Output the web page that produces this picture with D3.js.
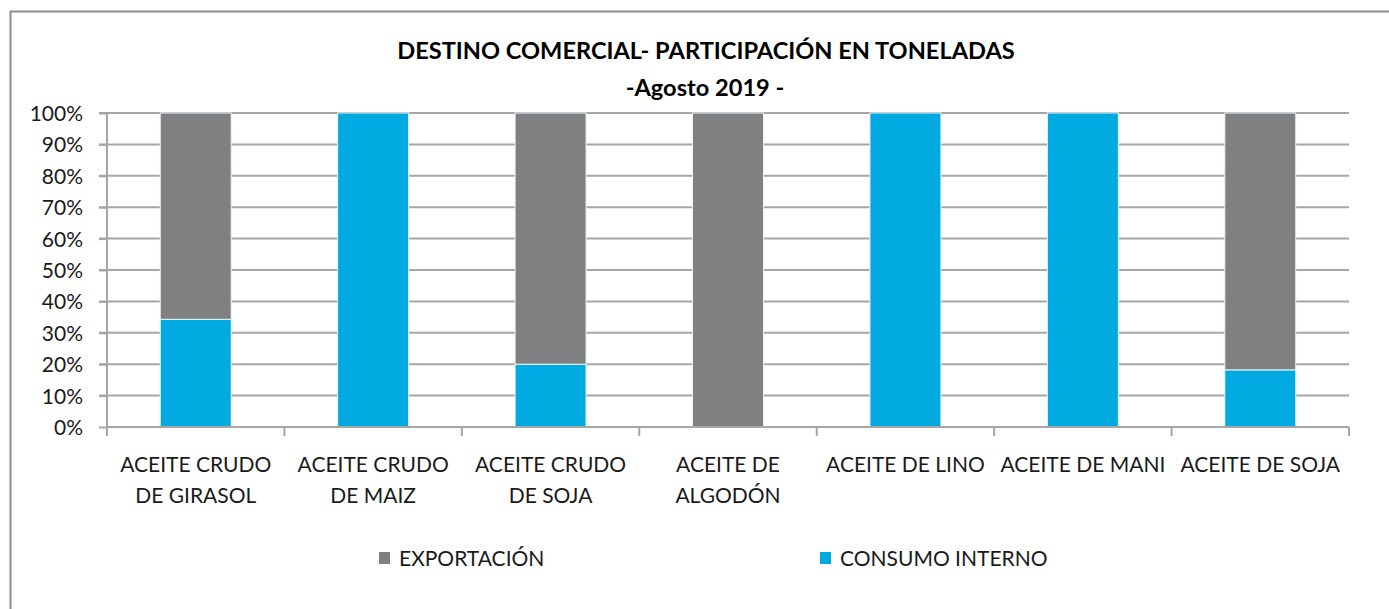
<!DOCTYPE html>
<meta charset="utf-8">
<title>Destino comercial</title>
<script src="https://d3js.org/d3.v7.min.js"></script>
<style>
  body { margin: 0; background: #fff; }
  text { font-family: Lato, "Liberation Sans", Arial, sans-serif; fill: #1a1a1a; }
  text.title { font-size: 23.6px; font-weight: bold; text-anchor: middle; fill: #000; }
  .yaxis text { font-size: 21px; }
  text.cat { font-size: 21px; }
  text.legend { font-size: 21px; }
</style>
<div id="chart"></div>
<script>
// data
var categories = [
  ["ACEITE CRUDO", "DE GIRASOL"],
  ["ACEITE CRUDO", "DE MAIZ"],
  ["ACEITE CRUDO", "DE SOJA"],
  ["ACEITE DE", "ALGODÓN"],
  ["ACEITE DE LINO"],
  ["ACEITE DE MANI"],
  ["ACEITE DE SOJA"]
];
var consumoInterno = [34.3, 100, 20, 0, 100, 100, 18.2];
var exportacion = [65.7, 0, 80, 100, 0, 0, 81.8];
var seriesNames = ["EXPORTACIÓN", "CONSUMO INTERNO"];
var seriesColors = ["#808080", "#00a9e0"];
var yTicks = [0, 10, 20, 30, 40, 50, 60, 70, 80, 90, 100];

var W = 1389, H = 609;
var margin = {top: 113, right: 40, bottom: 182, left: 107};

var svg = d3.select("#chart").append("svg")
    .attr("width", W)
    .attr("height", H);

// outer frame
svg.append("rect")
    .attr("x", 10.5).attr("y", 11.5)
    .attr("width", W).attr("height", H)
    .attr("fill", "none")
    .attr("stroke", "#8c8c8c")
    .attr("stroke-width", 2);

svg.append("text").attr("class", "title")
    .attr("x", 706).attr("y", 59)
    .text("DESTINO COMERCIAL- PARTICIPACIÓN EN TONELADAS");
svg.append("text").attr("class", "title")
    .attr("x", 705).attr("y", 96)
    .text("-Agosto 2019 -");

var g = svg.append("g")
    .attr("transform", "translate(" + margin.left + "," + margin.top + ")");
var width = 1349 - margin.left, height = 427 - margin.top;

var x = d3.scaleBand()
    .domain(d3.range(categories.length))
    .range([0, width])
    .paddingInner(0.6).paddingOuter(0.3);
var xb = d3.scaleBand().domain(d3.range(categories.length)).range([0, width]);
var y = d3.scaleLinear().domain([0, 100]).range([height, 0]);

// gridlines
g.append("g")
    .selectAll("line")
    .data(yTicks.slice(1))
    .enter().append("line")
    .attr("x1", -8).attr("x2", width)
    .attr("y1", function(d) { return y(d); })
    .attr("y2", function(d) { return y(d); })
    .attr("stroke", "#a6a6a6")
    .attr("stroke-width", 2);

// y axis
var yAxis = g.append("g").attr("class", "yaxis")
    .call(d3.axisLeft(y).tickValues(yTicks).tickSize(8).tickPadding(16)
        .tickFormat(function(d) { return d + "%"; }));
yAxis.selectAll("line").attr("stroke", "#a6a6a6").attr("stroke-width", 2);
yAxis.select(".domain").attr("stroke", "#a6a6a6").attr("stroke-width", 2)
    .attr("d", "M0,0V" + height);
yAxis.selectAll("text").attr("fill", "#1a1a1a").attr("dy", "0.36em")
    .style("font-family", null);

// stacked bars
var stackData = categories.map(function(c, i) {
  return {i: i, consumo: consumoInterno[i], export: exportacion[i]};
});
var layers = d3.stack().keys(["consumo", "export"])(stackData);
var colorByKey = {"export": seriesColors[0], "consumo": seriesColors[1]};

layers.forEach(function(layer) {
  g.append("g").selectAll("rect")
    .data(layer.filter(function(d) { return d[1] > d[0]; }))
    .enter().append("rect")
    .attr("x", function(d) { return x(d.data.i); })
    .attr("width", x.bandwidth())
    .attr("y", function(d) { return y(d[1]); })
    .attr("height", function(d) { return y(d[0]) - y(d[1]); })
    .attr("fill", colorByKey[layer.key])
    .attr("stroke", "#e8f6fb")
    .attr("stroke-width", 1);
});

// x axis
var xAxis = g.append("g").attr("transform", "translate(0," + height + ")");
xAxis.append("line").attr("x1", 0).attr("x2", width)
    .attr("stroke", "#a6a6a6").attr("stroke-width", 2);
xAxis.selectAll(".sep")
    .data(d3.range(categories.length + 1))
    .enter().append("line")
    .attr("x1", function(d) { return d === categories.length ? width : xb(d); })
    .attr("x2", function(d) { return d === categories.length ? width : xb(d); })
    .attr("y1", 0).attr("y2", 9)
    .attr("stroke", "#a6a6a6").attr("stroke-width", 2);

var labels = xAxis.selectAll(".cat")
    .data(categories)
    .enter().append("text")
    .attr("class", "cat")
    .attr("text-anchor", "middle")
    .attr("transform", function(d, i) {
      return "translate(" + (xb(i) + xb.bandwidth() / 2) + ",45)";
    });
labels.selectAll("tspan")
    .data(function(d) { return d; })
    .enter().append("tspan")
    .attr("x", 0)
    .attr("dy", function(d, i) { return i === 0 ? 0 : 31; })
    .text(function(d) { return d; });

// legend
var legendX = [379, 820];
seriesNames.forEach(function(name, i) {
  svg.append("rect")
    .attr("x", legendX[i]).attr("y", 552)
    .attr("width", 11).attr("height", 12)
    .attr("fill", seriesColors[i]);
  svg.append("text").attr("class", "legend")
    .attr("x", legendX[i] + 20).attr("y", 566)
    .text(name);
});
</script>
